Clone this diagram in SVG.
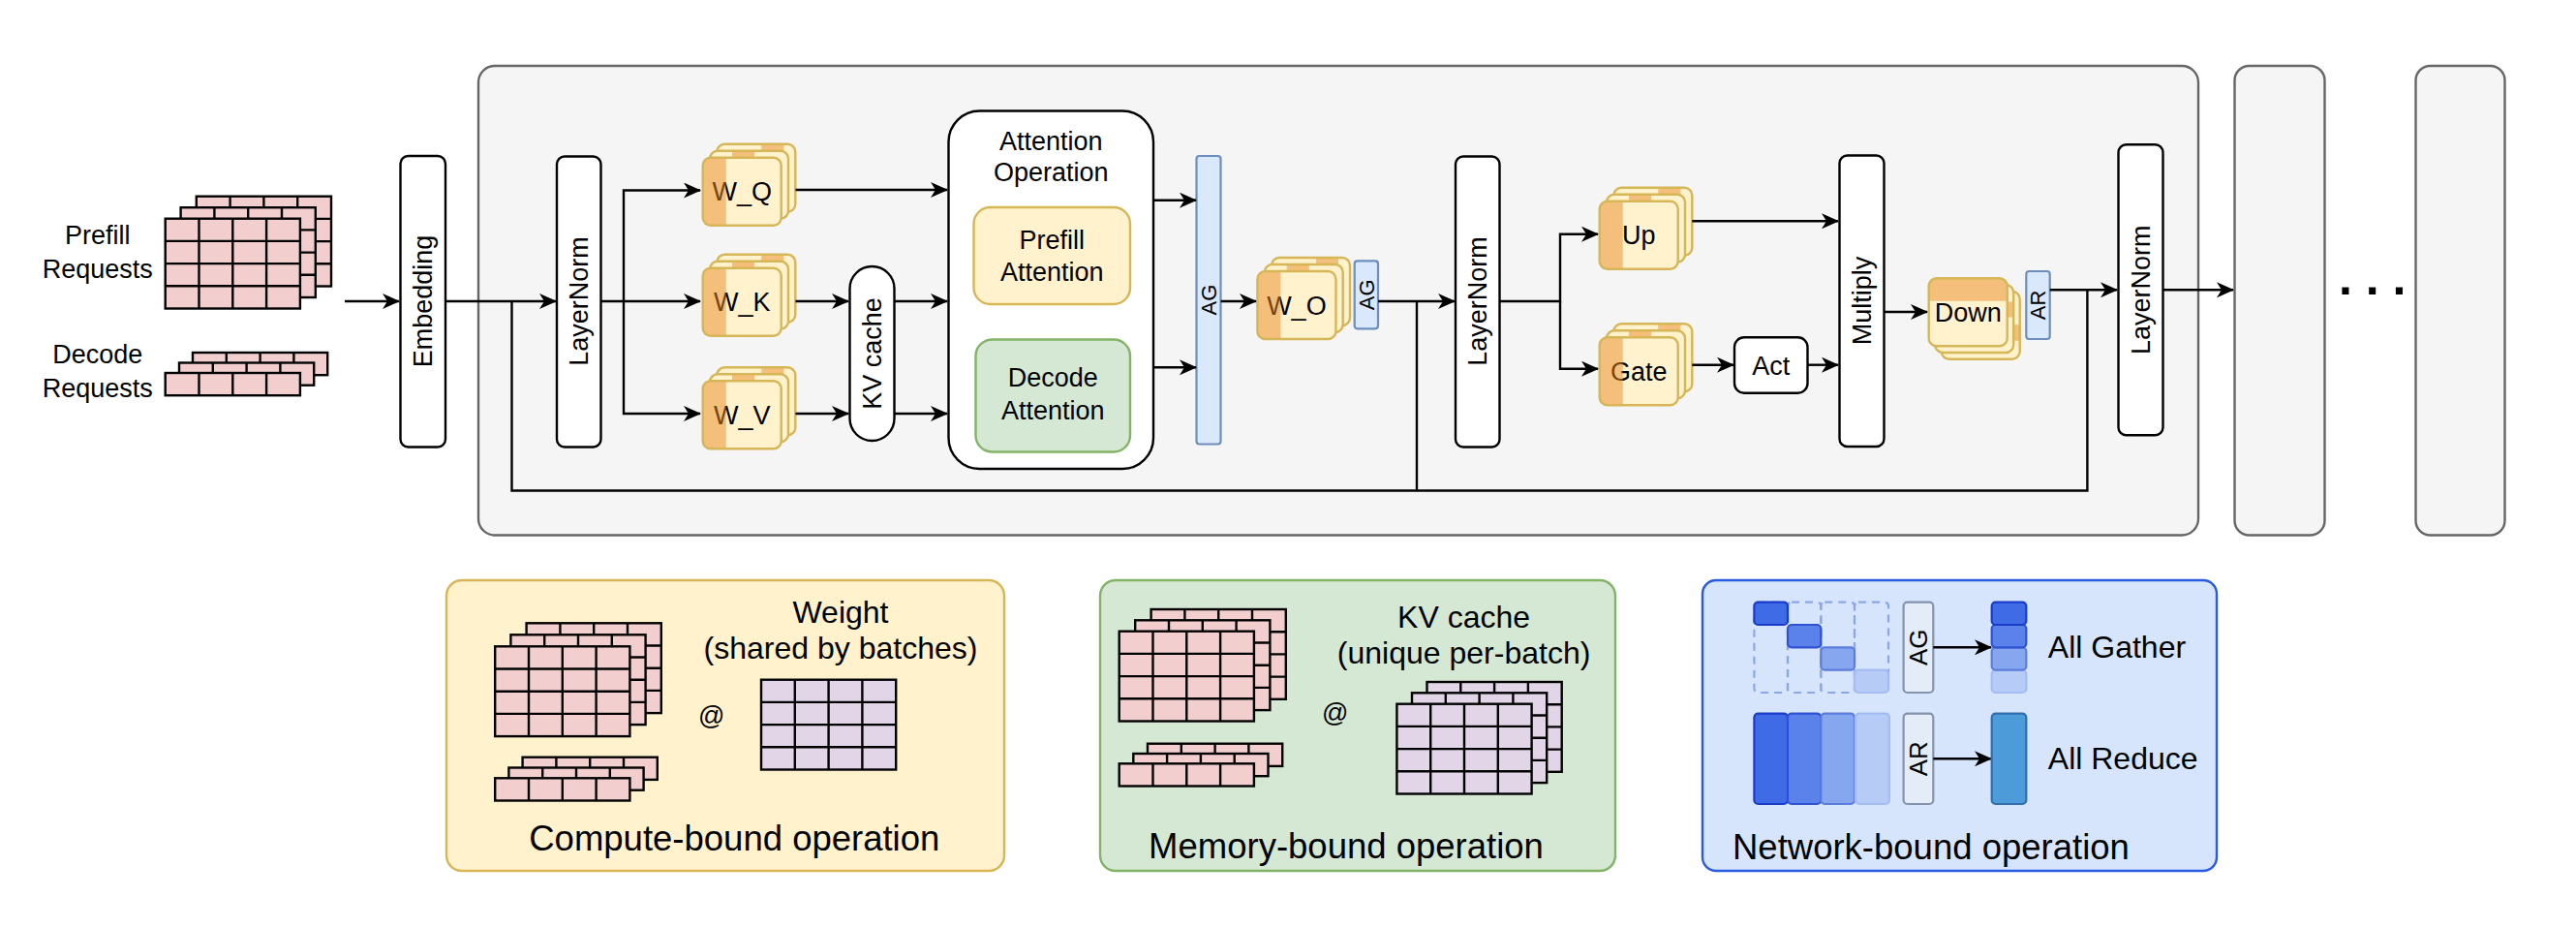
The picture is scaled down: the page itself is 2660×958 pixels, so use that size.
<svg xmlns="http://www.w3.org/2000/svg" width="2660" height="958" viewBox="0 0 2660 958">
<defs>
<style>
.t{font-family:"Liberation Sans",Arial,Helvetica,sans-serif;font-size:27px;fill:#000}
.m{text-anchor:middle}
.s22{font-size:22px}
.s26{font-size:26px}
.s32{font-size:32px}
.s36{font-size:36.5px}
.dots{font-size:50px;font-weight:bold}
.blk{fill:#fff;stroke:#000;stroke-width:2.4}
.w{fill:none;stroke:#000;stroke-width:2.4}
.a{marker-end:url(#ah)}
.cf{fill:#fff2cc}
.co{fill:none;stroke:#d6b656;stroke-width:2.4}
.or{fill:#e9892a;opacity:.5}
.ag{fill:#dae8fc;stroke:#6c8ebf;stroke-width:2.2}
.cont{fill:#f5f5f5;stroke:#666;stroke-width:2.4}
</style>
<marker id="ah" viewBox="0 0 18 16" refX="17" refY="8" markerWidth="18" markerHeight="16" markerUnits="userSpaceOnUse" orient="auto"><path d="M0,0 L18,8 L0,16 L5,8 Z" fill="#000"/></marker>
<clipPath id="cc"><rect width="81" height="70" rx="8"/></clipPath>
<g id="pk44"><rect width="139.2" height="92.8" fill="#f2cfce" stroke="#000" stroke-width="2.4"/><path d="M34.8,0V92.8M69.6,0V92.8M104.4,0V92.8M0,23.2H139.2M0,46.4H139.2M0,69.6H139.2" fill="none" stroke="#000" stroke-width="2.4"/></g>
<g id="pu44"><rect width="139.2" height="92.8" fill="#e1d5e7" stroke="#000" stroke-width="2.4"/><path d="M34.8,0V92.8M69.6,0V92.8M104.4,0V92.8M0,23.2H139.2M0,46.4H139.2M0,69.6H139.2" fill="none" stroke="#000" stroke-width="2.4"/></g>
<g id="pk41"><rect width="139.2" height="23.2" fill="#f2cfce" stroke="#000" stroke-width="2.4"/><path d="M34.8,0V23.2M69.6,0V23.2M104.4,0V23.2" fill="none" stroke="#000" stroke-width="2.4"/></g>
</defs>

<rect width="2660" height="958" fill="#fff"/>

<g id="layer-container"><rect class="cont" x="494" y="68" width="1776" height="484.5" rx="17"/></g>
<g id="layer-2"><rect class="cont" x="2307.5" y="68" width="93" height="484.5" rx="15"/></g>
<g id="layer-3"><rect class="cont" x="2494.5" y="68" width="92" height="484.5" rx="15"/></g>
<g id="ellipsis"><text class="t dots" x="2415" y="303.5">. . .</text></g>

<g id="prefill-requests">
<use href="#pk44" x="202.8" y="202.7"/><use href="#pk44" x="186.6" y="214.2"/><use href="#pk44" x="170.7" y="225.7"/>
<text class="t m" x="100.7" y="252.3">Prefill</text><text class="t m" x="100.7" y="286.7">Requests</text>
</g>
<g id="decode-requests">
<use href="#pk41" x="199" y="364"/><use href="#pk41" x="185" y="374.5"/><use href="#pk41" x="170.7" y="385"/>
<text class="t m" x="100.7" y="375">Decode</text><text class="t m" x="100.7" y="410">Requests</text>
</g>

<g id="embedding"><rect class="blk" x="413.5" y="161" width="46.5" height="300.5" rx="8"/><text class="t m" transform="translate(436.8,311) rotate(-90)" y="9.5">Embedding</text></g>
<g id="layernorm-1"><rect class="blk" x="575" y="161.5" width="45.5" height="300" rx="8"/><text class="t m" transform="translate(597.8,311) rotate(-90)" y="9.5">LayerNorm</text></g>

<g id="w-q">
<g transform="translate(740.3,148.7)"><rect class="cf" width="81" height="70" rx="8"/><rect class="or" x="46" width="23" height="70" clip-path="url(#cc)"/><rect class="co" width="81" height="70" rx="8"/></g>
<g transform="translate(733,155.7)"><rect class="cf" width="81" height="70" rx="8"/><rect class="or" x="23" width="23" height="70" clip-path="url(#cc)"/><rect class="co" width="81" height="70" rx="8"/></g>
<g transform="translate(725.7,162.7)"><rect class="cf" width="81" height="70" rx="8"/><text class="t m" x="40.5" y="44.5">W_Q</text><rect class="or" x="0" width="24" height="70" clip-path="url(#cc)"/><rect class="co" width="81" height="70" rx="8"/></g>
</g>
<g id="w-k">
<g transform="translate(740.3,262.7)"><rect class="cf" width="81" height="70" rx="8"/><rect class="or" x="46" width="23" height="70" clip-path="url(#cc)"/><rect class="co" width="81" height="70" rx="8"/></g>
<g transform="translate(733,269.7)"><rect class="cf" width="81" height="70" rx="8"/><rect class="or" x="23" width="23" height="70" clip-path="url(#cc)"/><rect class="co" width="81" height="70" rx="8"/></g>
<g transform="translate(725.7,276.7)"><rect class="cf" width="81" height="70" rx="8"/><text class="t m" x="40.5" y="44.5">W_K</text><rect class="or" x="0" width="24" height="70" clip-path="url(#cc)"/><rect class="co" width="81" height="70" rx="8"/></g>
</g>
<g id="w-v">
<g transform="translate(740.3,379.3)"><rect class="cf" width="81" height="70" rx="8"/><rect class="or" x="46" width="23" height="70" clip-path="url(#cc)"/><rect class="co" width="81" height="70" rx="8"/></g>
<g transform="translate(733,386.3)"><rect class="cf" width="81" height="70" rx="8"/><rect class="or" x="23" width="23" height="70" clip-path="url(#cc)"/><rect class="co" width="81" height="70" rx="8"/></g>
<g transform="translate(725.7,393.3)"><rect class="cf" width="81" height="70" rx="8"/><text class="t m" x="40.5" y="44.5">W_V</text><rect class="or" x="0" width="24" height="70" clip-path="url(#cc)"/><rect class="co" width="81" height="70" rx="8"/></g>
</g>

<g id="kv-cache"><rect class="blk" x="877.5" y="275" width="46" height="180" rx="23"/><text class="t m" transform="translate(900.5,365) rotate(-90)" y="9.5">KV cache</text></g>

<g id="attention-operation">
<rect class="blk" x="979.5" y="114.5" width="211.5" height="369.5" rx="32"/>
<text class="t m" x="1085.2" y="155">Attention</text><text class="t m" x="1085.2" y="187">Operation</text>
</g>
<g id="prefill-attention"><rect x="1005.5" y="214" width="161.5" height="100" rx="17" fill="#fff2cc" stroke="#d6b656" stroke-width="2.4"/><text class="t m" x="1086.2" y="256.7">Prefill</text><text class="t m" x="1086.2" y="290">Attention</text></g>
<g id="decode-attention"><rect x="1007.5" y="350.5" width="159.5" height="116" rx="17" fill="#d5e8d4" stroke="#82b366" stroke-width="2.4"/><text class="t m" x="1087.2" y="399.3">Decode</text><text class="t m" x="1087.2" y="433.3">Attention</text></g>

<g id="ag-1"><rect class="ag" x="1235.5" y="161" width="25" height="297.5" rx="3"/><text class="t s22 m" transform="translate(1248,309.5) rotate(-90)" y="7.7">AG</text></g>

<g id="w-o">
<g transform="translate(1313,266)"><rect class="cf" width="81" height="70" rx="8"/><rect class="or" x="46" width="23" height="70" clip-path="url(#cc)"/><rect class="co" width="81" height="70" rx="8"/></g>
<g transform="translate(1305.7,273)"><rect class="cf" width="81" height="70" rx="8"/><rect class="or" x="23" width="23" height="70" clip-path="url(#cc)"/><rect class="co" width="81" height="70" rx="8"/></g>
<g transform="translate(1298.4,280)"><rect class="cf" width="81" height="70" rx="8"/><text class="t m" x="40.5" y="44.5">W_O</text><rect class="or" x="0" width="24" height="70" clip-path="url(#cc)"/><rect class="co" width="81" height="70" rx="8"/></g>
</g>
<g id="ag-2"><rect class="ag" x="1398.7" y="269.3" width="24.3" height="70" rx="3"/><text class="t s22 m" transform="translate(1410.9,304.3) rotate(-90)" y="7.7">AG</text></g>

<g id="layernorm-2"><rect class="blk" x="1503" y="161.5" width="45.5" height="300" rx="8"/><text class="t m" transform="translate(1525.8,311) rotate(-90)" y="9.5">LayerNorm</text></g>

<g id="up">
<g transform="translate(1666.3,193.7)"><rect class="cf" width="81" height="70" rx="8"/><rect class="or" x="46" width="23" height="70" clip-path="url(#cc)"/><rect class="co" width="81" height="70" rx="8"/></g>
<g transform="translate(1659,200.7)"><rect class="cf" width="81" height="70" rx="8"/><rect class="or" x="23" width="23" height="70" clip-path="url(#cc)"/><rect class="co" width="81" height="70" rx="8"/></g>
<g transform="translate(1651.7,207.7)"><rect class="cf" width="81" height="70" rx="8"/><text class="t m" x="40.5" y="44.5">Up</text><rect class="or" x="0" width="24" height="70" clip-path="url(#cc)"/><rect class="co" width="81" height="70" rx="8"/></g>
</g>
<g id="gate">
<g transform="translate(1666.3,334.3)"><rect class="cf" width="81" height="70" rx="8"/><rect class="or" x="46" width="23" height="70" clip-path="url(#cc)"/><rect class="co" width="81" height="70" rx="8"/></g>
<g transform="translate(1659,341.3)"><rect class="cf" width="81" height="70" rx="8"/><rect class="or" x="23" width="23" height="70" clip-path="url(#cc)"/><rect class="co" width="81" height="70" rx="8"/></g>
<g transform="translate(1651.7,348.3)"><rect class="cf" width="81" height="70" rx="8"/><text class="t m" x="40.5" y="44.5">Gate</text><rect class="or" x="0" width="24" height="70" clip-path="url(#cc)"/><rect class="co" width="81" height="70" rx="8"/></g>
</g>
<g id="act"><rect class="blk" x="1791" y="348.3" width="75.5" height="57.4" rx="10"/><text class="t m" x="1828.8" y="386.5">Act</text></g>
<g id="multiply"><rect class="blk" x="1899.5" y="160.5" width="46" height="300.5" rx="8"/><text class="t m" transform="translate(1922.5,310.5) rotate(-90)" y="9.5">Multiply</text></g>

<g id="down">
<g transform="translate(2004.7,300.7)"><rect class="cf" width="81" height="70" rx="8"/><rect class="or" y="34.5" width="81" height="16.5" clip-path="url(#cc)"/><rect class="co" width="81" height="70" rx="8"/></g>
<g transform="translate(1998.2,294)"><rect class="cf" width="81" height="70" rx="8"/><rect class="or" y="17.5" width="81" height="16" clip-path="url(#cc)"/><rect class="co" width="81" height="70" rx="8"/></g>
<g transform="translate(1991.7,287.3)"><rect class="cf" width="81" height="70" rx="8"/><text class="t m" x="40.5" y="44.5">Down</text><rect class="or" y="0" width="81" height="23.4" clip-path="url(#cc)"/><rect class="co" width="81" height="70" rx="8"/></g>
</g>
<g id="ar"><rect class="ag" x="2092.3" y="280" width="24.4" height="70" rx="3"/><text class="t s22 m" transform="translate(2104.5,315) rotate(-90)" y="7.7">AR</text></g>

<g id="layernorm-3"><rect class="blk" x="2187.5" y="149.3" width="46" height="300" rx="8"/><text class="t m" transform="translate(2210.5,299.3) rotate(-90)" y="9.5">LayerNorm</text></g>

<g id="connectors">
<path class="w" d="M528.5,311V506.5H2155.4V299.3"/>
<path class="w" d="M1463,311V506.5"/>
<path class="w a" d="M356,311H412"/>
<path class="w a" d="M460,311H574"/>
<path class="w a" d="M620.6,311H723"/>
<path class="w a" d="M644,311V196.5H723"/>
<path class="w a" d="M644,311V427H723"/>
<path class="w a" d="M821.5,196H978"/>
<path class="w a" d="M821.5,311H876"/>
<path class="w a" d="M821.5,427H876"/>
<path class="w a" d="M923.5,311H978"/>
<path class="w a" d="M923.5,427H978"/>
<path class="w a" d="M1191,206.7H1235"/>
<path class="w a" d="M1191,379.3H1235"/>
<path class="w a" d="M1260.6,311H1297"/>
<path class="w a" d="M1423,311H1502"/>
<path class="w a" d="M1548.5,311H1611V241.7H1650"/>
<path class="w a" d="M1611,311V380.7H1650"/>
<path class="w a" d="M1747.3,228.3H1898"/>
<path class="w a" d="M1747.3,376.7H1790"/>
<path class="w a" d="M1866.5,376.7H1898"/>
<path class="w a" d="M1945.5,322H1990"/>
<path class="w a" d="M2116.7,299.3H2186"/>
<path class="w a" d="M2233.5,299.3H2306"/>
</g>

<g id="legend-compute">
<rect x="461" y="599" width="576" height="300" rx="16" fill="#fff2cc" stroke="#d6b656" stroke-width="2.4"/>
<use href="#pk44" x="543.6" y="643.3"/><use href="#pk44" x="527.4" y="655.3"/><use href="#pk44" x="511.2" y="667.3"/>
<use href="#pk41" x="539.6" y="781.7"/><use href="#pk41" x="525.4" y="792.5"/><use href="#pk41" x="511.2" y="803.3"/>
<text class="t m" x="734.6" y="748">@</text>
<use href="#pu44" x="786" y="701.7"/>
<text class="t s32 m" x="868" y="643.3">Weight</text>
<text class="t s32 m" x="868" y="680">(shared by batches)</text>
<text class="t s36 m" x="758.3" y="878">Compute-bound operation</text>
</g>

<g id="legend-memory">
<rect x="1136" y="599" width="532" height="300" rx="16" fill="#d5e8d4" stroke="#82b366" stroke-width="2.4"/>
<use href="#pk44" x="1188.6" y="629"/><use href="#pk44" x="1172.2" y="640.3"/><use href="#pk44" x="1155.7" y="651.7"/>
<use href="#pk41" x="1185" y="767.7"/><use href="#pk41" x="1170.3" y="778"/><use href="#pk41" x="1155.7" y="788.3"/>
<text class="t m" x="1378.8" y="745">@</text>
<use href="#pu44" x="1473.5" y="704"/><use href="#pu44" x="1458" y="715.3"/><use href="#pu44" x="1442.4" y="726.7"/>
<text class="t s32 m" x="1511.6" y="648.3">KV cache</text>
<text class="t s32 m" x="1511.6" y="685">(unique per-batch)</text>
<text class="t s36 m" x="1390" y="886">Memory-bound operation</text>
</g>

<g id="legend-network">
<rect x="1758" y="599" width="531" height="300" rx="14" fill="#d6e5fb" stroke="#2a5be0" stroke-width="2.4"/>
<g fill="none" stroke="#8aa8e8" stroke-width="2.2" stroke-dasharray="8 6">
<rect x="1811.4" y="621.7" width="34.6" height="93.3" rx="4"/>
<rect x="1846" y="621.7" width="34.3" height="93.3" rx="4"/>
<rect x="1880.3" y="621.7" width="34.7" height="93.3" rx="4"/>
<rect x="1915" y="621.7" width="35" height="93.3" rx="4"/>
</g>
<rect x="1811.4" y="621.7" width="34.6" height="23.3" rx="4" fill="#3f6be6" stroke="#1b3cc9" stroke-width="2.2"/>
<rect x="1846" y="645" width="34.3" height="23.3" rx="4" fill="#5a82ea" stroke="#2f52d3" stroke-width="2.2"/>
<rect x="1880.3" y="668.3" width="34.7" height="23.4" rx="4" fill="#86a6ef" stroke="#5b7ddc" stroke-width="2.2"/>
<rect x="1915" y="691.7" width="35" height="23.3" rx="4" fill="#b6cbf6" stroke="#a3bcf2" stroke-width="2.2"/>
<rect x="1965.6" y="621.7" width="30.7" height="93.3" rx="4" fill="#e4ecf8" stroke="#8393ad" stroke-width="2.2"/>
<text class="t s26 m" transform="translate(1981,668.3) rotate(-90)" y="9.1">AG</text>
<path class="w a" d="M1996.3,668.3H2056"/>
<rect x="2056.7" y="691.7" width="35.6" height="23.3" rx="4" fill="#b6cbf6" stroke="#a3bcf2" stroke-width="2.2"/>
<rect x="2056.7" y="668.3" width="35.6" height="23.4" rx="4" fill="#86a6ef" stroke="#5b7ddc" stroke-width="2.2"/>
<rect x="2056.7" y="645" width="35.6" height="23.3" rx="4" fill="#5a82ea" stroke="#2f52d3" stroke-width="2.2"/>
<rect x="2056.7" y="621.7" width="35.6" height="23.3" rx="4" fill="#3f6be6" stroke="#1b3cc9" stroke-width="2.2"/>
<text class="t s32" x="2114.8" y="679">All Gather</text>
<rect x="1811.4" y="736.7" width="34.6" height="93.3" rx="4" fill="#3f6be6" stroke="#1b3cc9" stroke-width="2.2"/>
<rect x="1846" y="736.7" width="34.3" height="93.3" rx="4" fill="#5a82ea" stroke="#2f52d3" stroke-width="2.2"/>
<rect x="1880.3" y="736.7" width="34.7" height="93.3" rx="4" fill="#86a6ef" stroke="#5b7ddc" stroke-width="2.2"/>
<rect x="1916" y="736.7" width="35" height="93.3" rx="4" fill="#b6cbf6" stroke="#a3bcf2" stroke-width="2.2"/>
<rect x="1965.6" y="736.7" width="30.7" height="93.3" rx="4" fill="#e4ecf8" stroke="#8393ad" stroke-width="2.2"/>
<text class="t s26 m" transform="translate(1981,783.3) rotate(-90)" y="9.1">AR</text>
<path class="w a" d="M1996.3,783.3H2056"/>
<rect x="2056.7" y="736.7" width="35.6" height="93.3" rx="4" fill="#4d9bd9" stroke="#2f6fae" stroke-width="2.2"/>
<text class="t s32" x="2114.8" y="794">All Reduce</text>
<text class="t s36" x="1789" y="887">Network-bound operation</text>
</g>
</svg>
